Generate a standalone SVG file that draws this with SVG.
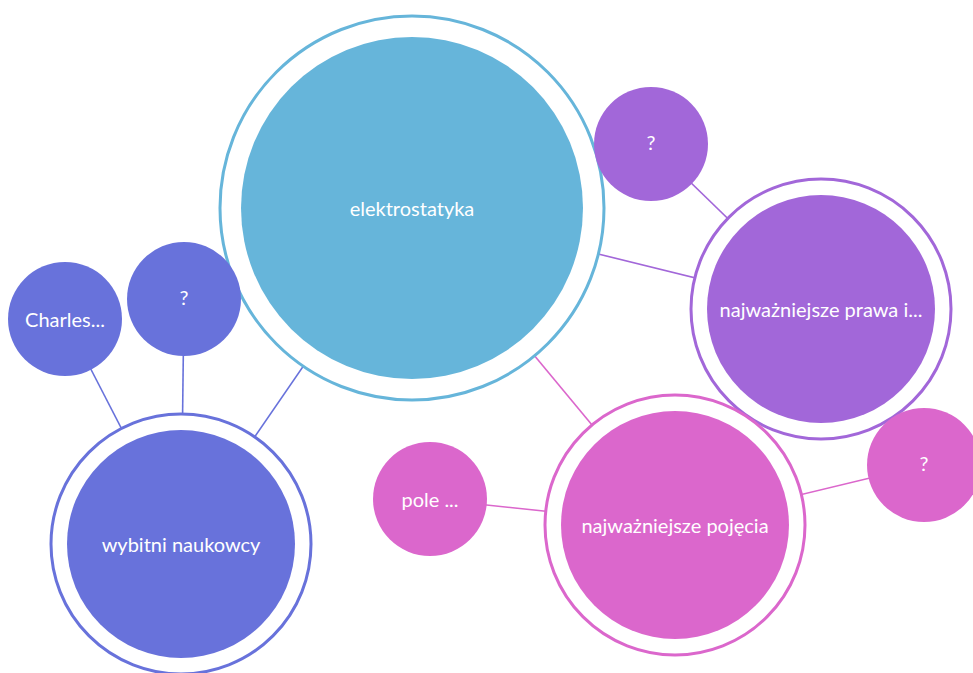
<svg xmlns="http://www.w3.org/2000/svg" width="973" height="673" viewBox="0 0 973 673">
<style>
text{font-family:Lato,"Open Sans","Liberation Sans",sans-serif;font-size:20px;fill:#fff;text-anchor:middle;dominant-baseline:central}
.ring{fill:#fff;stroke-width:3}
.c1{fill:#66B5DA}.s1{stroke:#66B5DA}
.c2{fill:#6872DB}.s2{stroke:#6872DB}
.c3{fill:#A267D9}.s3{stroke:#A267D9}
.c4{fill:#DB67CC}.s4{stroke:#DB67CC}
#connectors line{stroke-width:1.6}
</style>
<rect width="973" height="673" fill="#fff"/>
<g id="connectors">
<line class="s2" x1="412" y1="208" x2="181" y2="544"/>
<line class="s2" x1="65" y1="319" x2="181" y2="544"/>
<line class="s2" x1="184" y1="299" x2="181" y2="544"/>
<line class="s3" x1="412" y1="208" x2="821" y2="309"/>
<line class="s3" x1="651" y1="144" x2="821" y2="309"/>
<line class="s4" x1="412" y1="208" x2="675" y2="525"/>
<line class="s4" x1="430" y1="499" x2="675" y2="525"/>
<line class="s4" x1="924" y1="465" x2="675" y2="525"/>
</g>
<g id="elektrostatyka">
<circle class="ring s1" cx="412" cy="208" r="192"/>
<circle class="c1" cx="412" cy="208" r="171"/>
<text x="412" y="208">elektrostatyka</text>
</g>
<g id="wybitni">
<circle class="ring s2" cx="181" cy="544" r="130"/>
<circle class="c2" cx="181" cy="544" r="114"/>
<text x="181" y="544">wybitni naukowcy</text>
</g>
<g id="prawa">
<circle class="ring s3" cx="821" cy="309" r="130"/>
<circle class="c3" cx="821" cy="309" r="114"/>
<text x="821" y="309">najważniejsze prawa i...</text>
</g>
<g id="pojecia">
<circle class="ring s4" cx="675" cy="525" r="130"/>
<circle class="c4" cx="675" cy="525" r="114"/>
<text x="675" y="525">najważniejsze pojęcia</text>
</g>
<g id="charles">
<circle class="c2" cx="65" cy="319" r="57"/>
<text x="65" y="319">Charles...</text>
</g>
<g id="q1">
<circle class="c2" cx="184" cy="299" r="57"/>
<text x="184" y="297">?</text>
</g>
<g id="q2">
<circle class="c3" cx="651" cy="144" r="57"/>
<text x="651" y="142">?</text>
</g>
<g id="pole">
<circle class="c4" cx="430" cy="499" r="57"/>
<text x="430" y="499">pole ...</text>
</g>
<g id="q3">
<circle class="c4" cx="924" cy="465" r="57"/>
<text x="924" y="463">?</text>
</g>
</svg>
